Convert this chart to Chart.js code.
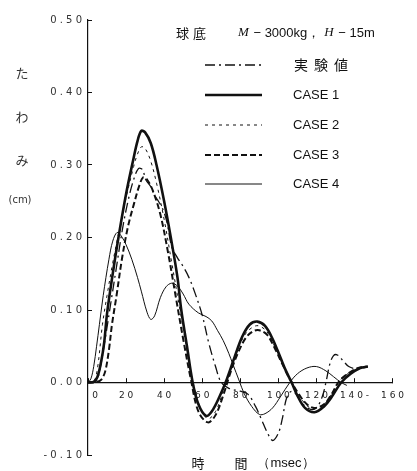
<!DOCTYPE html>
<html>
<head>
<meta charset="utf-8">
<script src="https://cdn.jsdelivr.net/npm/chart.js@4.4.1/dist/chart.umd.min.js"></script>
<style>
  html, body { margin: 0; padding: 0; background: #fff; }
  #wrap { width: 417px; height: 471px; }
</style>
</head>
<body>
<div id="wrap"><canvas id="chart"></canvas></div>
<script>
// names as in the legend
const seriesNames = ['実験値', 'CASE 1', 'CASE 2', 'CASE 3', 'CASE 4'];
const xTicks = [0, 20, 40, 60, 80, 100, 120, 140, 160];
const yTicks = [-0.1, 0, 0.1, 0.2, 0.3, 0.4, 0.5];

// 実験値 (measured)
const expTime = [0, 4, 6, 9, 12, 15, 18, 21, 24, 26.5, 28.5, 30.5, 33, 35, 37, 39, 41.4, 44, 47, 50, 53, 56, 60, 63.3, 67, 70, 74, 80, 84, 88, 91, 94, 97, 100, 102, 104.5, 107, 110, 113, 117, 120, 123, 125, 127, 129, 131, 134, 137, 141, 146];
const expVal = [0, 0.001, 0.015, 0.06, 0.11, 0.16, 0.21, 0.25, 0.28, 0.295, 0.294, 0.279, 0.27, 0.258, 0.25, 0.241, 0.222, 0.187, 0.172, 0.16, 0.145, 0.125, 0.093, 0.056, 0.022, 0.0, -0.008, -0.012, -0.016, -0.033, -0.05, -0.068, -0.08, -0.07, -0.051, -0.02, -0.012, -0.018, -0.03, -0.037, -0.035, -0.02, 0.0, 0.025, 0.037, 0.038, 0.03, 0.022, 0.019, 0.021];

// CASE 1
const case1Time = [0, 3, 5, 7, 8.5, 10, 13, 16, 20, 24, 26, 28, 30, 33, 36, 40, 43.5, 47, 49, 52, 55, 58, 62, 65, 69, 73, 77, 81, 85, 89, 93, 97, 101, 104, 107, 110, 114, 119, 124, 128, 133, 138, 143, 147];
const case1Val = [0, 0.001, 0.008, 0.03, 0.055, 0.095, 0.15, 0.2, 0.26, 0.31, 0.333, 0.347, 0.345, 0.33, 0.3, 0.25, 0.2, 0.145, 0.1, 0.05, 0, -0.03, -0.046, -0.04, -0.02, 0.005, 0.035, 0.063, 0.08, 0.084, 0.078, 0.06, 0.035, 0.016, 0, -0.018, -0.035, -0.041, -0.033, -0.02, 0, 0.012, 0.02, 0.022];

// CASE 2
const case2Time = [0, 3, 5, 7.6, 10, 13, 16, 20, 24, 26, 28, 30, 33, 36, 40, 44, 48, 52, 55, 59, 63, 67, 71, 75, 79, 83, 87, 90, 94, 98, 102, 107, 111, 115, 119, 124, 128, 132, 137, 142, 147];
const case2Val = [0, 0.001, 0.02, 0.08, 0.12, 0.165, 0.205, 0.255, 0.298, 0.315, 0.325, 0.323, 0.305, 0.275, 0.225, 0.165, 0.105, 0.045, 0.002, -0.035, -0.05, -0.04, -0.012, 0.02, 0.048, 0.068, 0.077, 0.078, 0.07, 0.05, 0.028, 0, -0.018, -0.032, -0.036, -0.03, -0.016, 0.002, 0.013, 0.02, 0.022];

// CASE 3
const case3Time = [0, 5, 7, 9, 11, 12.6, 15, 17.8, 21, 24, 27, 29, 31, 34, 38, 42, 46, 50, 54, 58, 63, 67, 71, 75, 79, 83, 87, 90, 94, 98, 102, 107, 111, 115, 119, 124, 128, 132, 137, 142, 147];
const case3Val = [0, 0.001, 0.004, 0.015, 0.045, 0.08, 0.12, 0.17, 0.215, 0.245, 0.272, 0.283, 0.28, 0.265, 0.232, 0.18, 0.12, 0.06, 0.005, -0.04, -0.055, -0.045, -0.018, 0.015, 0.042, 0.062, 0.071, 0.072, 0.066, 0.048, 0.026, 0, -0.017, -0.03, -0.035, -0.03, -0.016, 0.002, 0.013, 0.02, 0.022];

// CASE 4
const case4Time = [0, 1.5, 3, 4.5, 6, 8, 11, 13, 15.3, 17.5, 20, 23, 26, 28, 31, 33, 35, 38, 41, 44, 47, 50, 53, 58, 62, 65, 68, 71, 74, 76, 79.5, 82, 86, 90, 93, 97, 101, 106, 110, 115, 120, 125, 129, 133, 136];
const case4Val = [0, 0.005, 0.022, 0.05, 0.08, 0.12, 0.17, 0.195, 0.207, 0.202, 0.19, 0.17, 0.145, 0.126, 0.097, 0.087, 0.092, 0.117, 0.132, 0.137, 0.133, 0.122, 0.108, 0.096, 0.091, 0.085, 0.072, 0.058, 0.04, 0.026, 0.002, -0.015, -0.033, -0.044, -0.043, -0.035, -0.02, 0, 0.012, 0.02, 0.022, 0.016, 0.008, 0, -0.004];

function toPoints(ts, vs) {
    return ts.map((t, i) => ({ x: t, y: vs[i] }));
}

const jpFont = '"Noto Sans CJK JP", "Noto Sans", sans-serif';
const numFont = '"DejaVu Sans", sans-serif';

const styles = [
    { borderWidth: 1.3, borderDash: [10, 4, 2, 4] },
    { borderWidth: 2.6, borderDash: [] },
    { borderWidth: 1, borderDash: [3, 4] },
    { borderWidth: 2, borderDash: [6, 3] },
    { borderWidth: 1, borderDash: [] }
];

const dataSets = [
    toPoints(expTime, expVal),
    toPoints(case1Time, case1Val),
    toPoints(case2Time, case2Val),
    toPoints(case3Time, case3Val),
    toPoints(case4Time, case4Val)
];

// text around the plot and the legend
const textPlugin = {
    id: 'texts',
    beforeDraw(chart) {
        const c = chart.ctx;
        c.save();
        c.fillStyle = '#fff';
        c.fillRect(0, 0, chart.width, chart.height);
        c.restore();
    },
    afterDraw(chart) {
        const c = chart.ctx;
        c.save();
        c.fillStyle = '#111';
        c.textBaseline = 'middle';

        // heading
        c.font = '13px ' + jpFont;
        c.textAlign = 'left';
        c.fillText('球', 176, 33);
        c.fillText('底', 193, 33);
        let x = 238;
        const parts = [['M', true], [' − 3000kg，', false], ['H', true], [' − 15m', false]];
        parts.forEach(([s, it]) => {
            c.font = it ? 'italic 13px "Liberation Serif", serif' : '13px "Liberation Sans", sans-serif';
            c.fillText(s, x, 33);
            x += c.measureText(s).width + (it ? 1 : 4);
        });

        // legend
        const ly = [65, 95, 125, 155, 184];
        chart.data.datasets.forEach((ds, i) => {
            c.save();
            c.strokeStyle = '#111';
            c.lineWidth = ds.borderWidth;
            c.setLineDash(ds.borderDash);
            c.beginPath();
            c.moveTo(205, ly[i]);
            c.lineTo(262, ly[i]);
            c.stroke();
            c.restore();
            if (i === 0) {
                c.font = '14px ' + jpFont;
                ['実', '験', '値'].forEach((ch, k) => c.fillText(ch, 294 + k * 20, ly[i]));
            } else {
                c.font = '13px "Liberation Sans", sans-serif';
                c.fillText(ds.label, 293, ly[i]);
            }
        });

        // y title
        c.fillStyle = '#333';
        c.textAlign = 'center';
        c.font = '13px ' + jpFont;
        c.fillText('た', 22, 73);
        c.fillText('わ', 22, 117);
        c.fillText('み', 22, 160);
        c.font = '10px "DejaVu Sans", sans-serif';
        c.fillText('(cm)', 20, 200);

        // x title
        c.fillStyle = '#111';
        c.font = '13px ' + jpFont;
        c.fillText('時', 198, 463);
        c.fillText('間', 241, 463);
        c.font = '13px "Liberation Sans", sans-serif';
        c.fillText('（msec）', 286, 463);
        c.restore();
    }
};

new Chart(document.getElementById('chart'), {
    type: 'line',
    data: {
        datasets: dataSets.map((pts, i) => ({
            label: seriesNames[i],
            data: pts,
            borderColor: '#111',
            borderWidth: styles[i].borderWidth,
            borderDash: styles[i].borderDash,
            pointRadius: 0,
            tension: 0.35,
            fill: false
        }))
    },
    options: {
        responsive: true,
        maintainAspectRatio: false,
        animation: false,
        layout: { padding: { left: 0, right: 12, top: 20, bottom: 8 } },
        plugins: {
            legend: { display: false },
            tooltip: { enabled: false }
        },
        scales: {
            x: {
                type: 'linear',
                min: 0,
                max: 160,
                position: { y: 0 },
                afterBuildTicks: s => { s.ticks = xTicks.map(v => ({ value: v })); },
                grid: { drawOnChartArea: false, tickLength: -5, color: '#111', lineWidth: 1 },
                border: { color: '#111', width: 1.2 },
                ticks: {
                    autoSkip: false,
                    maxRotation: 0,
                    padding: 13,
                    color: '#222',
                    font: { family: numFont, size: 9 },
                    callback: function(v) {
                        if (v === 0) return '     0';
                        let s = String(v).split('').join(' ');
                        if (v === 140) s = s + ' -';
                        return s;
                    }
                }
            },
            y: {
                min: -0.1,
                max: 0.5,
                afterBuildTicks: s => { s.ticks = yTicks.map(v => ({ value: v })); },
                afterFit: s => { s.width = 88; },
                grid: { drawOnChartArea: false, tickLength: -4, color: '#111', lineWidth: 1 },
                border: { color: '#111', width: 1.2 },
                ticks: {
                    padding: 10,
                    color: '#333',
                    font: { family: numFont, size: 10 },
                    callback: function(v) {
                        return v.toFixed(2).split('').join(' ');
                    }
                }
            }
        }
    },
    plugins: [textPlugin]
});
</script>
</body>
</html>
